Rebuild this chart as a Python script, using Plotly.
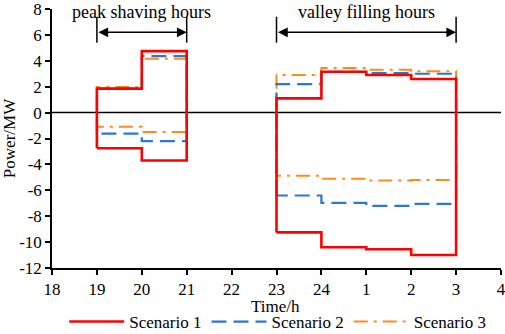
import plotly.graph_objects as go

# Hour labels along x-axis (positions 0..10)
tick_labels = ["18", "19", "20", "21", "22", "23", "24", "1", "2", "3", "4"]

# Hour-segment boundaries (index into tick_labels)
peak_edges = [1, 2, 3]          # 19,20,21
valley_edges = [5, 6, 7, 8, 9]  # 23,24,1,2,3

# Step values per hour segment
s1_peak_up = [1.85, 4.75]
s1_peak_dn = [-2.75, -3.7]
s1_val_up = [1.1, 3.15, 2.9, 2.6]
s1_val_dn = [-9.25, -10.4, -10.55, -11.0]

s2_peak_up = [1.85, 4.36]
s2_peak_dn = [-1.62, -2.2]
s2_val_up = [2.2, 3.15, 3.05, 3.0]
s2_val_dn = [-6.4, -6.97, -7.2, -7.05]

s3_peak_up = [1.97, 4.15]
s3_peak_dn = [-1.1, -1.5]
s3_val_up = [2.9, 3.45, 3.3, 3.2]
s3_val_dn = [-4.88, -5.1, -5.25, -5.2]

names = ["Scenario 1", "Scenario 2", "Scenario 3"]
colors = ["#ff0000", "#2a78d2", "#ff8a1e"]
dashes = ["solid", "15px,7px", "14px,6px,3px,6px"]
widths = [2.6, 2.2, 2.0]


def loop(edges, up, dn):
    xs, ys = [], []
    xs.append(edges[0]); ys.append(dn[0])
    for i, v in enumerate(up):
        xs += [edges[i], edges[i + 1]]
        ys += [v, v]
    for i in range(len(dn) - 1, -1, -1):
        xs += [edges[i + 1], edges[i]]
        ys += [dn[i], dn[i]]
    return xs, ys


data = [
    (s1_peak_up, s1_peak_dn, s1_val_up, s1_val_dn),
    (s2_peak_up, s2_peak_dn, s2_val_up, s2_val_dn),
    (s3_peak_up, s3_peak_dn, s3_val_up, s3_val_dn),
]

fig = go.Figure()

fig.add_trace(go.Scatter(x=[0, 10], y=[0, 0], mode="lines",
                         line=dict(color="black", width=1.5),
                         showlegend=False, hoverinfo="skip"))

for k in [2, 1, 0]:
    pu, pd, vu, vd = data[k]
    x1, y1 = loop(peak_edges, pu, pd)
    x2, y2 = loop(valley_edges, vu, vd)
    fig.add_trace(go.Scatter(
        x=x1 + [None] + x2, y=y1 + [None] + y2, mode="lines",
        name=names[k],
        line=dict(color=colors[k], dash=dashes[k], width=widths[k]),
        legendrank=k + 1,
    ))

FAM = "Liberation Serif"
font = dict(family=FAM, size=17, color="black")
for (a, b, label) in [(1, 3, "peak shaving hours"), (5, 9, "valley filling hours")]:
    for xv in (a, b):
        fig.add_shape(type="line", x0=xv, x1=xv, y0=5.4, y1=7.4,
                      xref="x", yref="y", line=dict(color="black", width=1.5))
    fig.add_annotation(x=b, y=6.2, ax=a, ay=6.2, xref="x", yref="y",
                       axref="x", ayref="y", text="", showarrow=True,
                       arrowhead=2, arrowside="end+start", arrowsize=1.3,
                       arrowwidth=1.5, arrowcolor="black")
    fig.add_annotation(x=(a + b) / 2, y=7.8, xref="x", yref="y", text=label,
                       showarrow=False, font=dict(family=FAM, size=18, color="black"),
                       yanchor="middle")

# x-axis title as annotation
fig.add_annotation(x=0.497, y=-0.148, xref="paper", yref="paper", text="Time/h",
                   showarrow=False, font=font, xanchor="center", yanchor="middle")

fig.update_layout(
    width=505, height=334,
    margin=dict(l=52, r=4, t=9, b=66, autoexpand=False),
    plot_bgcolor="white", paper_bgcolor="white",
    font=font,
    legend=dict(orientation="h", xref="container", yref="container",
                x=0.55, xanchor="center", y=0.036, yanchor="middle",
                font=dict(family=FAM, size=17, color="black"),
                itemwidth=55, tracegroupgap=0, bgcolor="rgba(0,0,0,0)"),
)
fig.update_xaxes(
    range=[0, 10], tickmode="array", tickvals=list(range(11)), ticktext=tick_labels,
    showgrid=False, zeroline=False, showline=True, linecolor="black", linewidth=1.5,
    ticks="outside", ticklen=5, tickwidth=1.5, tickcolor="black",
    tickfont=font, automargin=False, ticklabeloverflow="allow",
)
fig.update_yaxes(
    range=[-12, 8], tickmode="array", tickvals=list(range(-12, 9, 2)),
    ticktext=[str(v) for v in range(-12, 9, 2)],
    showgrid=False, zeroline=False, showline=True, linecolor="black", linewidth=1.5,
    ticks="outside", ticklen=5, tickwidth=1.5, tickcolor="black",
    title=dict(text="Power/MW", standoff=2, font=font), tickfont=font, automargin=False,
    ticklabeloverflow="allow",
)

fig.write_html("out.html", config={"displayModeBar": False},
               post_script="document.body.style.margin='0';document.body.style.overflow='hidden';")
